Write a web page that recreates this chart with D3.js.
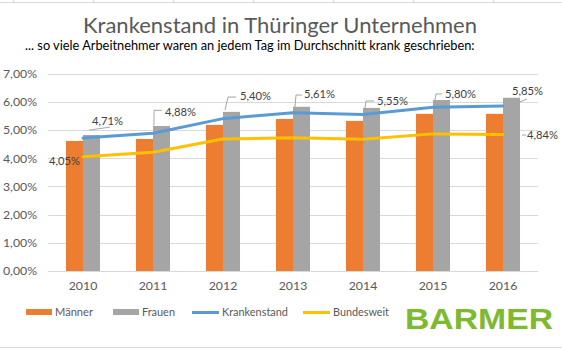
<!DOCTYPE html>
<html><head><meta charset="utf-8">
<script src="https://cdn.jsdelivr.net/npm/d3@7"></script>
<style>
html,body{margin:0;padding:0;background:#fff;}
svg{display:block;font-family:Lato,"Open Sans",sans-serif;}
</style></head><body>
<svg id="c" width="562" height="348"></svg>
<script>
const years = ["2010","2011","2012","2013","2014","2015","2016"];
const maenner = [4.61, 4.68, 5.18, 5.39, 5.32, 5.57, 5.57];
const frauen = [4.82, 5.14, 5.64, 5.82, 5.78, 6.06, 6.14];
const krankenstand = [4.71, 4.88, 5.40, 5.61, 5.55, 5.80, 5.85];
const bundesweit = [4.05, 4.21, 4.68, 4.72, 4.67, 4.86, 4.84];
const yTicks = [0, 1, 2, 3, 4, 5, 6, 7];
const seriesNames = ["Männer", "Frauen", "Krankenstand", "Bundesweit"];

(function(){
const colors = {m:"#ed7d31", f:"#a5a5a5", k:"#5b9bd5", b:"#ffc000"};
const fmt = v => v.toFixed(2).replace(".", ",") + "%";

const svg = d3.select("#c");
const pl = 48, pr = 538, pt = 73.5, pb = 271;

// fit a text element's font size to a target width
function fit(sel, target) {
  const fs = parseFloat(sel.attr("font-size"));
  const w = sel.node().getComputedTextLength();
  if (w > 0) sel.attr("font-size", (fs * target / w).toFixed(2) + "px");
  return sel;
}

// Excel cell grid remnants
const cellX = [13, 93, 173, 253, 333, 413, 493];
[2, 347].forEach(yy => {
  svg.append("line").attr("x1",0).attr("x2",562).attr("y1",yy+0.5).attr("y2",yy+0.5).attr("stroke","#d9d9d9");
  cellX.forEach(c => svg.append("line").attr("x1",c+0.5).attr("x2",c+0.5)
    .attr("y1", yy===2 ? 0 : yy).attr("y2", yy===2 ? yy : 348).attr("stroke","#d9d9d9"));
});

const x = d3.scaleBand().domain(years).range([pl, pr]).paddingInner(0.514).paddingOuter(0.257);
const y = d3.scaleLinear().domain([0, 7]).range([pb, pt]);
const cx = d => x(d) + x.bandwidth()/2;

// gridlines
svg.append("g").selectAll("line").data(yTicks).join("line")
  .attr("x1", pl).attr("x2", pr)
  .attr("y1", d => Math.round(y(d))+0.5).attr("y2", d => Math.round(y(d))+0.5)
  .attr("stroke", "#d9d9d9").attr("stroke-width", 1);

// y axis labels
const yAxis = d3.axisLeft(y).tickValues(yTicks).tickSize(0).tickPadding(11).tickFormat(d => d.toFixed(2).replace(".", ",") + "%");
const ga = svg.append("g").attr("transform", `translate(${pl},0)`).call(yAxis);
ga.select(".domain").remove();
ga.selectAll("text").attr("font-family","Lato").attr("font-size","12.3px").attr("fill","#595959");

// x axis labels
const xAxis = d3.axisBottom(x).tickSize(0).tickPadding(10);
const gx = svg.append("g").attr("transform", `translate(0,${pb})`).call(xAxis);
gx.select(".domain").remove();
gx.selectAll("text").attr("font-family","Lato").attr("font-size","12.3px").attr("fill","#595959");

// bars
const bw = x.bandwidth()/2;
svg.append("g").selectAll("rect").data(years).join("rect")
  .attr("x", d => x(d)).attr("width", bw)
  .attr("y", (d,i) => y(maenner[i])).attr("height", (d,i) => y(0) - y(maenner[i]))
  .attr("fill", colors.m);
svg.append("g").selectAll("rect").data(years).join("rect")
  .attr("x", d => x(d) + bw).attr("width", bw)
  .attr("y", (d,i) => y(frauen[i])).attr("height", (d,i) => y(0) - y(frauen[i]))
  .attr("fill", colors.f);

// lines
const line = d3.line().x((d,i) => cx(years[i])).y(d => y(d));
svg.append("path").datum(bundesweit).attr("d", line).attr("fill","none")
  .attr("stroke", colors.b).attr("stroke-width", 3).attr("stroke-linejoin","round").attr("stroke-linecap","round");
svg.append("path").datum(krankenstand).attr("d", line).attr("fill","none")
  .attr("stroke", colors.k).attr("stroke-width", 3).attr("stroke-linejoin","round").attr("stroke-linecap","round");

// data labels (offsets relative to the point; leader polyline offsets)
const kLab = [
  {dx:9, dy:-17, anchor:"start", lead:[[6,-8],[27,-11]]},
  {dx:12, dy:-21, anchor:"start", lead:[[1,-8],[1,-23],[9,-23]]},
  {dx:17, dy:-22.6, anchor:"start", lead:[[2,-8.6],[5,-21.6],[13,-21.6]]},
  {dx:11, dy:-18.7, anchor:"start", lead:[[2,-5.7],[3,-17.7],[9,-17.7]]},
  {dx:14, dy:-13.4, anchor:"start", lead:[[2,-6.4],[3,-13.4],[11,-13.4]]},
  {dx:12, dy:-13.4, anchor:"start", lead:[[2,-7.4],[3,-13.4],[9,-13.4]]},
  {dx:9, dy:-15, anchor:"start", lead:[[17,-4],[24,-7]]}
];
const bLab = {0:{dx:-3, dy:4, anchor:"end", lead:null}, 6:{dx:24, dy:0.6, anchor:"start", lead:[[19,0.6],[23,0.6]]}};

function drawLabel(px, py, v, o) {
  if (o.lead) {
    svg.append("path").attr("d", d3.line()(o.lead.map(p => [px+p[0], py+p[1]])))
      .attr("fill","none").attr("stroke","#a6a6a6").attr("stroke-width",1);
  }
  const t = svg.append("text").attr("x", px+o.dx).attr("y", py+o.dy).attr("dy","0.35em")
    .attr("text-anchor", o.anchor).attr("font-family","Lato").attr("font-size","13px")
    .attr("fill","#404040").text(fmt(v));
  fit(t, 31);
}
krankenstand.forEach((v,i) => drawLabel(cx(years[i]), y(v), v, kLab[i]));
Object.keys(bLab).forEach(k => { const i = +k; drawLabel(cx(years[i]), y(bundesweit[i]), bundesweit[i], bLab[i]); });

// titles
const tt = svg.append("text").attr("x", 280).attr("y", 33).attr("text-anchor","middle")
  .attr("font-family","Lato").attr("font-size","21px").attr("fill","#595959")
  .text("Krankenstand in Thüringer Unternehmen");
fit(tt, 394);
const st = svg.append("text").attr("x", 25).attr("y", 50)
  .attr("font-family","Lato").attr("font-size","14px").attr("fill","#000")
  .text("... so viele Arbeitnehmer waren an jedem Tag im Durchschnitt krank geschrieben:");
fit(st, 450);

// legend
const legX = [26, 113, 192, 303];
const legW = [38, 33, 66, 56];
const lg = svg.append("g");
seriesNames.forEach((n,i) => {
  const g = lg.append("g").attr("transform", `translate(${legX[i]},312)`);
  if (i < 2) g.append("rect").attr("x",0).attr("y",-3).attr("width",26).attr("height",6).attr("fill", i===0?colors.m:colors.f);
  else g.append("line").attr("x1",0).attr("x2",27).attr("y1",0.5).attr("y2",0.5).attr("stroke", i===2?colors.k:colors.b).attr("stroke-width",3);
  const t = g.append("text").attr("x", i<2 ? 29 : 30).attr("y",0).attr("dy","0.35em")
    .attr("font-family","Lato").attr("font-size","12.5px").attr("fill","#595959").text(n);
  fit(t, legW[i]);
});

// logo
svg.append("text").attr("x", 405).attr("y", 329).attr("textLength",148).attr("lengthAdjust","spacingAndGlyphs")
  .attr("font-family","Liberation Sans, Arial, sans-serif").attr("font-weight","bold").attr("font-size","29px")
  .attr("fill","#7dba2f").text("BARMER");
})();
</script>
</body></html>
